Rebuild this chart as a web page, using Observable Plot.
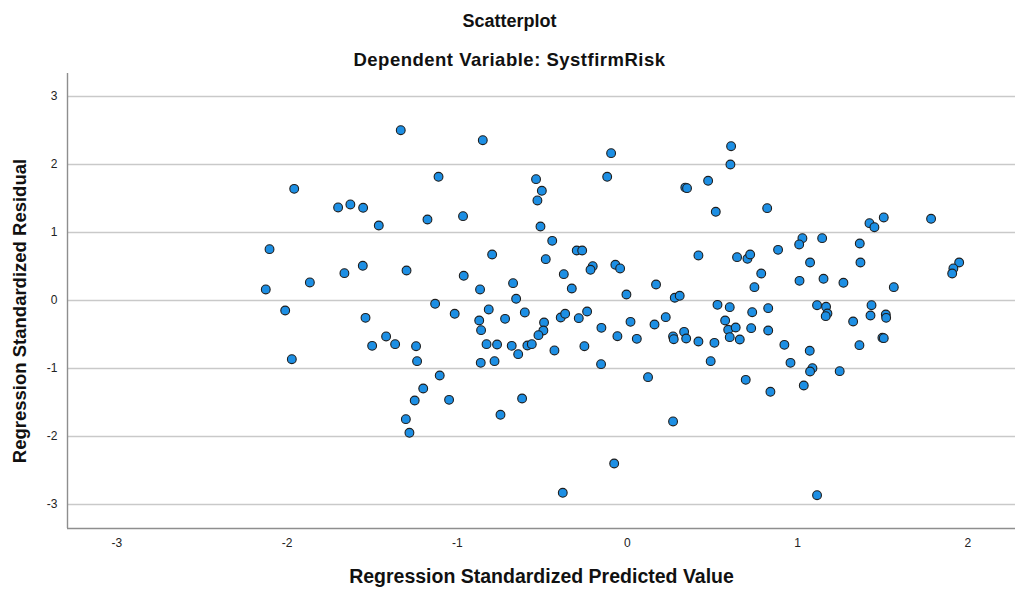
<!DOCTYPE html>
<html>
<head>
<meta charset="utf-8">
<script src="https://cdn.jsdelivr.net/npm/d3@7"></script>
<script src="https://cdn.jsdelivr.net/npm/@observablehq/plot@0.6"></script>
<style>
  html, body { margin: 0; padding: 0; background: #fff; }
  #wrap { width: 1019px; height: 590px; position: relative; font-family: "Liberation Sans", Arial, sans-serif; }
  .ttl { position: absolute; left: 0; width: 1019px; text-align: center; font-weight: bold; color: #111; line-height: 22px; z-index: 2; }
  #chart { position: absolute; left: 0; top: 0; }
</style>
</head>
<body>
<div id="wrap">
  <div id="chart"></div>
  <div class="ttl" style="top:10px; font-size:18px">Scatterplot</div>
  <div class="ttl" style="top:49px; font-size:18.5px; letter-spacing:0.5px">Dependent Variable: SystfirmRisk</div>
</div>
<script>
// Regression standardized predicted values (x) and standardized residuals (y)
const predicted = [
  -1.332, -0.850, -1.110, -1.958, -1.700, -1.628, -1.553, -1.461, -1.175, -0.966,
  -2.103, -0.795, -1.555, -1.663, -1.298, -0.962, -1.866, -2.125, -0.866, -2.011,
  -1.130, -1.015, -0.815, -1.539, -0.871, -0.860, -1.418, -1.500, -1.365, -1.242,
  -0.828, -0.766, -1.972, -1.236, -0.862, -0.781, -1.103, -1.200, -1.250, -1.048,
  -1.302, -1.281, -0.746,
  -0.096, 0.609, 0.605, -0.119, -0.537, -0.503, -0.529, -0.511, 0.340, 0.350,
  0.474, 0.519, -0.442, -0.298, -0.266, -0.480, -0.204, -0.217, -0.071, -0.043,
  0.417, 0.644, -0.374, -0.672, -0.327, -0.654, -0.006, 0.168, 0.278, 0.307,
  0.529, 0.601, -0.719, -0.603, -0.490, -0.494, -0.523, -0.392, -0.366, -0.286,
  -0.237, -0.153, 0.018, 0.159, 0.225, 0.333, 0.268, 0.272, 0.345, 0.417,
  0.511, 0.574, 0.592, 0.601, -0.680, -0.642, -0.588, -0.562, -0.429, -0.253,
  -0.059, 0.055, -0.155, 0.489, 0.121, -0.619, 0.268, -0.078, -0.380,
  0.821, 1.422, 1.451, 1.506, 1.784, 1.028, 1.009, 1.144, 1.365, 0.705,
  0.721, 0.885, 0.786, 0.746, 1.073, 1.369, 1.011, 1.152, 1.269, 1.565,
  1.949, 1.915, 1.908, 0.733, 0.827, 1.114, 1.167, 1.175, 1.165, 1.434,
  1.428, 1.518, 1.520, 1.326, 1.498, 1.506, 1.363, 0.922, 1.071, 0.958,
  1.087, 1.073, 1.247, 0.695, 0.840, 1.036, 1.114, 0.636, 0.660, 0.727, 0.827
];
const residual = [
  2.504, 2.357, 1.819, 1.642, 1.368, 1.412, 1.363, 1.103, 1.191, 1.240,
  0.755, 0.676, 0.510, 0.402, 0.441, 0.363, 0.265, 0.162, 0.162, -0.147,
  -0.049, -0.196, -0.132, -0.255, -0.294, -0.436, -0.529, -0.667, -0.642, -0.672,
  -0.642, -0.647, -0.863, -0.892, -0.917, -0.892, -1.103, -1.294, -1.471, -1.461,
  -1.745, -1.946, -1.681,
  2.167, 2.269, 2.000, 1.819, 1.784, 1.613, 1.471, 1.088, 1.660, 1.652,
  1.760, 1.304, 0.877, 0.735, 0.735, 0.608, 0.505, 0.451, 0.525, 0.471,
  0.662, 0.637, 0.387, 0.255, 0.176, 0.025, 0.088, 0.235, 0.040, 0.069,
  -0.064, -0.098, -0.270, -0.176, -0.324, -0.441, -0.510, -0.250, -0.196, -0.260,
  -0.162, -0.402, -0.314, -0.353, -0.245, -0.461, -0.529, -0.569, -0.559, -0.603,
  -0.623, -0.294, -0.431, -0.539, -0.667, -0.789, -0.662, -0.642, -0.735, -0.672,
  -0.525, -0.564, -0.936, -0.892, -1.127, -1.441, -1.779, -2.397, -2.828,
  1.358, 1.137, 1.078, 1.221, 1.201, 0.917, 0.824, 0.917, 0.838, 0.613,
  0.676, 0.745, 0.397, 0.196, 0.559, 0.559, 0.289, 0.319, 0.260, 0.196,
  0.559, 0.471, 0.397, -0.172, -0.113, -0.069, -0.093, -0.191, -0.230, -0.069,
  -0.221, -0.206, -0.255, -0.309, -0.549, -0.554, -0.657, -0.652, -0.740, -0.917,
  -0.995, -1.044, -1.039, -1.167, -1.343, -1.250, -2.863, -0.397, -0.574, -0.407, -0.441
];

const xTicks = [-3, -2, -1, 0, 1, 2];
const yTicks = [-3, -2, -1, 0, 1, 2, 3];
const xDomain = [-3.29, 2.28];
const yDomain = [-3.353, 3.338];
const xTitle = "Regression Standardized Predicted Value";
const yTitle = "Regression Standardized Residual";

const points = predicted.map((x, i) => ({x, y: residual[i]}));

const font = "'Liberation Sans', Arial, sans-serif";

const chart = Plot.plot({
  width: 1019,
  height: 590,
  marginTop: 73,
  marginBottom: 62,
  marginLeft: 67,
  marginRight: 4,
  style: {fontFamily: font, fontSize: "12px", color: "#222", background: "transparent"},
  x: {domain: xDomain},
  y: {domain: yDomain},
  marks: [
    Plot.gridY(yTicks, {stroke: "#c9c9c9", strokeOpacity: 1, strokeWidth: 1.6}),
    Plot.ruleX([xDomain[0]], {stroke: "#8e8e8e", strokeWidth: 1.4}),
    Plot.ruleY([yDomain[0]], {stroke: "#8e8e8e", strokeWidth: 1.4}),
    Plot.axisX(xTicks, {tickSize: 0, tickPadding: 10, tickFormat: d => String(d), fill: "#222", label: null}),
    Plot.axisY(yTicks, {tickSize: 0, tickPadding: 10, tickFormat: d => String(d), fill: "#222", label: null}),
    Plot.dot(points, {x: "x", y: "y", r: 4.4, fill: "#1d8fe4", stroke: "#1e1e1e", strokeWidth: 1.1, fillOpacity: 1}),
    Plot.text([xTitle], {frameAnchor: "bottom", dy: 54, text: d => d, textAnchor: "middle", fontSize: 19.5, fontWeight: "bold", fill: "#111", fontFamily: font}),
    Plot.text([yTitle], {frameAnchor: "left", dx: -47, dy: 10, rotate: -90, text: d => d, textAnchor: "middle", fontSize: 18.5, fontWeight: "bold", fill: "#111", fontFamily: font})
  ]
});
document.getElementById("chart").appendChild(chart);
</script>
</body>
</html>
